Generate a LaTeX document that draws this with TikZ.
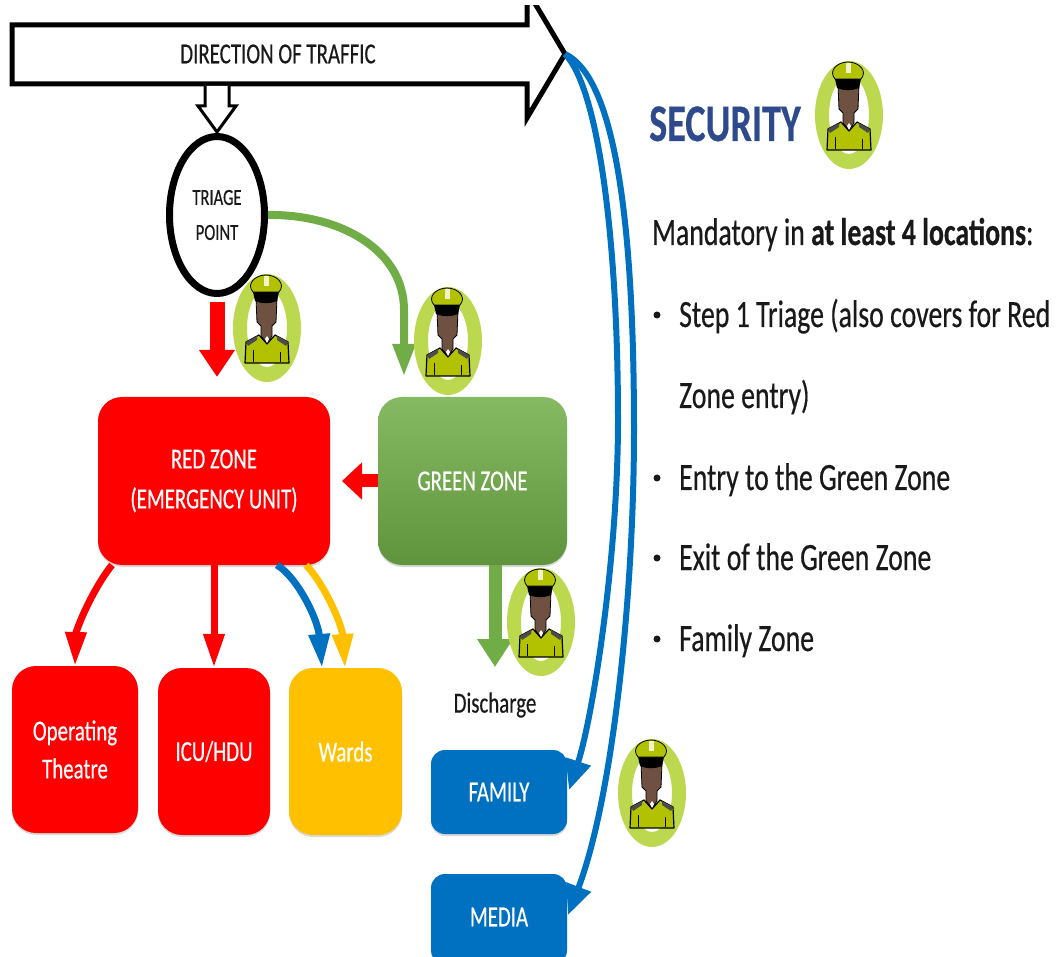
\documentclass[tikz,border=0pt]{standalone}
\usepackage{fontspec}
\setmainfont[FakeStretch=0.72,FakeBold=0.4]{Carlito}
\usetikzlibrary{arrows.meta,shadows,shapes.geometric}
\definecolor{zred}{HTML}{FF0000}
\definecolor{zgreen}{HTML}{70AD47}
\definecolor{zblue}{HTML}{0070C0}
\definecolor{zgold}{HTML}{FFC000}
\definecolor{ring}{HTML}{BCD84F}
\definecolor{olive}{HTML}{B2C200}
\definecolor{skin}{HTML}{6E5140}
\definecolor{navy}{HTML}{2F4A8C}
\newcommand{\fs}[1]{\fontsize{#1}{#1}\selectfont}
\newcommand{\dn}[1]{\raisebox{-2pt}{#1}}
\tikzset{
  zone/.style={rounded corners=24pt,inner sep=0pt,text=white,align=center,font=\fs{29},
    drop shadow={opacity=.3,shadow xshift=0pt,shadow yshift=-2pt}},
  body/.style={anchor=base west,inner sep=0pt,font=\fs{38.6},text=black!90},
  dot/.style={circle,fill=black!90,inner sep=0pt,minimum size=7pt},
  guard/.pic={
    \fill[ring,even odd rule] (0,0) ellipse[x radius=34,y radius=54] (0,0) ellipse[x radius=20,y radius=39];
    \fill[olive,draw=black,line width=1.2pt,line join=round] (-22,35) -- (-21,14) -- (-8,7) -- (0,16) -- (8,7) -- (21,14) -- (22,35) -- cycle;
    \fill[black!70] (-21,14) -- (-10,8) -- (-10,12) -- (-19,18) -- cycle (21,14) -- (10,8) -- (10,12) -- (19,18) -- cycle;
    \draw[black,line width=.8pt] (-14,22) -- (-14,34) (13,24) -- (13,34);
    \fill[skin,draw=black,line width=.8pt] (-11,-30) -- (10,-30) -- (9,-6) -- (5,-2) -- (5,8) -- (0,15) -- (-6,8) -- (-6,-2) -- (-10,-6) -- cycle;
    \fill[white] (-2,11) -- (0,8) -- (2,11) -- (0,15) -- cycle;
    \fill[black] (-14,-36) -- (12,-36) -- (10,-27) .. controls (3,-24) and (-5,-24) .. (-12,-27) -- cycle;
    \fill[olive,draw=black,line width=.8pt] (-14,-36) .. controls (-21,-44) and (-12,-53) .. (-1,-53) .. controls (10,-53) and (19,-44) .. (12,-36) -- cycle;
    \fill[white!80!olive] (-3,-52) rectangle (2,-42);
  }
}
\begin{document}
\begin{tikzpicture}[x=1pt,y=-1pt]
\useasboundingbox (0,0) rectangle (1061,957);
% traffic arrow
\begin{scope}
\clip (0,6) rectangle (1061,957);
\draw[line width=5pt,fill=white,miter limit=10] (12,25) -- (527,25) -- (527,-10) -- (565,54) -- (527,118) -- (527,84) -- (12,84) -- cycle;
\end{scope}
\coordinate (bigtip) at (565,54);
\node[inner sep=0pt,font=\fs{29},text=black!90] (traffic) at (278,54) {DIRECTION OF TRAFFIC};
% small down arrow
\draw[line width=3pt,fill=white,miter limit=10] (205,86) -- (205,106) -- (198,106) -- (217,132) -- (236,106) -- (229,106) -- (229,86);
% triage
\node[draw=black,line width=7pt,fill=white,ellipse,minimum width=95pt,minimum height=157pt,inner sep=0pt,align=center,font=\fs{23},text=black!90] (triage) at (217,215) {TRIAGE\\[12pt]POINT};
% zones
\node[zone,fill=zred,minimum width=232pt,minimum height=168pt] (red) at (214,481) {\dn{RED ZONE}\\[11pt]\dn{(EMERGENCY UNIT)}};
\node[zone,top color=zgreen!85!white,bottom color=zgreen!85!black,minimum width=189pt,minimum height=168pt] (green) at (472.5,481) {\dn{GREEN ZONE}};
\node[zone,fill=zred,minimum width=126pt,minimum height=167pt] (theatre) at (75,749.5) {Operating\\[9pt]Theatre};
\node[zone,fill=zred,minimum width=112pt,minimum height=167pt] (icu) at (214,751.5) {\dn{ICU/HDU}};
\node[zone,fill=zgold,minimum width=113pt,minimum height=167pt] (wards) at (345.5,751.5) {\dn{Wards}};
\node[zone,fill=zblue,rounded corners=14pt,minimum width=136pt,minimum height=84pt] (family) at (499,792) {FAMILY};
\node[zone,fill=zblue,rounded corners=14pt,minimum width=136pt,minimum height=90pt] (media) at (499,919) {};
\node[inner sep=0pt,text=white,font=\fs{29}] (medialabel) at (499,917) {MEDIA};
\node[inner sep=0pt,font=\fs{29},text=black!90] (discharge) at (495,705) {Discharge};
% connectors
\coordinate (redtip) at (217,377);
\coordinate (redstart) at (217,302);
\draw[-{Triangle[width=34pt,length=27pt]},zred,line width=15pt] (redstart) -- (redtip);
\coordinate (greentip) at (404,377);
\draw[-{Triangle[width=21pt,length=33pt]},zgreen,line width=8pt] (triage.east) .. controls (340,214) and (404,250) .. (404,310) -- (greentip);
\draw[-{Triangle[width=36pt,length=20pt]},zred,line width=13pt] (green.west) -- (red.east -| 342,484);
\coordinate (dischargetip) at (495,667);
\draw[-{Triangle[width=34pt,length=28pt]},zgreen,line width=13pt] (495,565) -- (dischargetip);
\draw[-{Triangle[width=20pt,length=34pt]},zred,line width=7pt] (112,565) .. controls (92,590) and (76,630) .. (75,666);
\draw[-{Triangle[width=20pt,length=34pt]},zred,line width=7pt] (214,565) -- (icu.north);
\draw[-{Triangle[width=20pt,length=34pt]},zgold,line width=7pt] (306,565) .. controls (325,585) and (342,625) .. (345,668);
\draw[-{Triangle[width=20pt,length=34pt]},zblue,line width=7pt] (277,565) .. controls (298,578) and (318,620) .. (322,668);
\coordinate (famtip) at (569,790);
\coordinate (medtip) at (568,915);
\draw[-{Triangle[width=25pt,length=30pt]},zblue,line width=6pt] (bigtip) .. controls (600,90) and (618,250) .. (618,420) .. controls (618,560) and (592,720) .. (famtip);
\draw[-{Triangle[width=25pt,length=30pt]},zblue,line width=6pt] (bigtip) .. controls (620,80) and (634,250) .. (634,430) .. controls (634,600) and (612,800) .. (medtip);
% guards
\path (267,328) pic {guard};
\path (448,341) pic {guard};
\path (541,622) pic {guard};
\path (652,793) pic {guard};
\path (849,115) pic {guard};
% text
\node[anchor=base west,inner sep=0pt,font=\fs{53}\bfseries,text=navy] (security) at (649,141) {SECURITY};
\node[body] (t0) at (652,245) {Mandatory in \textbf{at least 4 locations}:};
\node[dot] (b1) at (657,315) {};
\node[body] (t1) at (679,327) {Step 1 Triage (also covers for Red};
\node[body] (t1b) at (679,408) {Zone entry)};
\node[dot] (b2) at (657,478) {};
\node[body] (t2) at (679,490) {Entry to the Green Zone};
\node[dot] (b3) at (657,558) {};
\node[body] (t3) at (679,570) {Exit of the Green Zone};
\node[dot] (b4) at (657,639) {};
\node[body] (t4) at (679,651) {Family Zone};
\end{tikzpicture}
\end{document}
